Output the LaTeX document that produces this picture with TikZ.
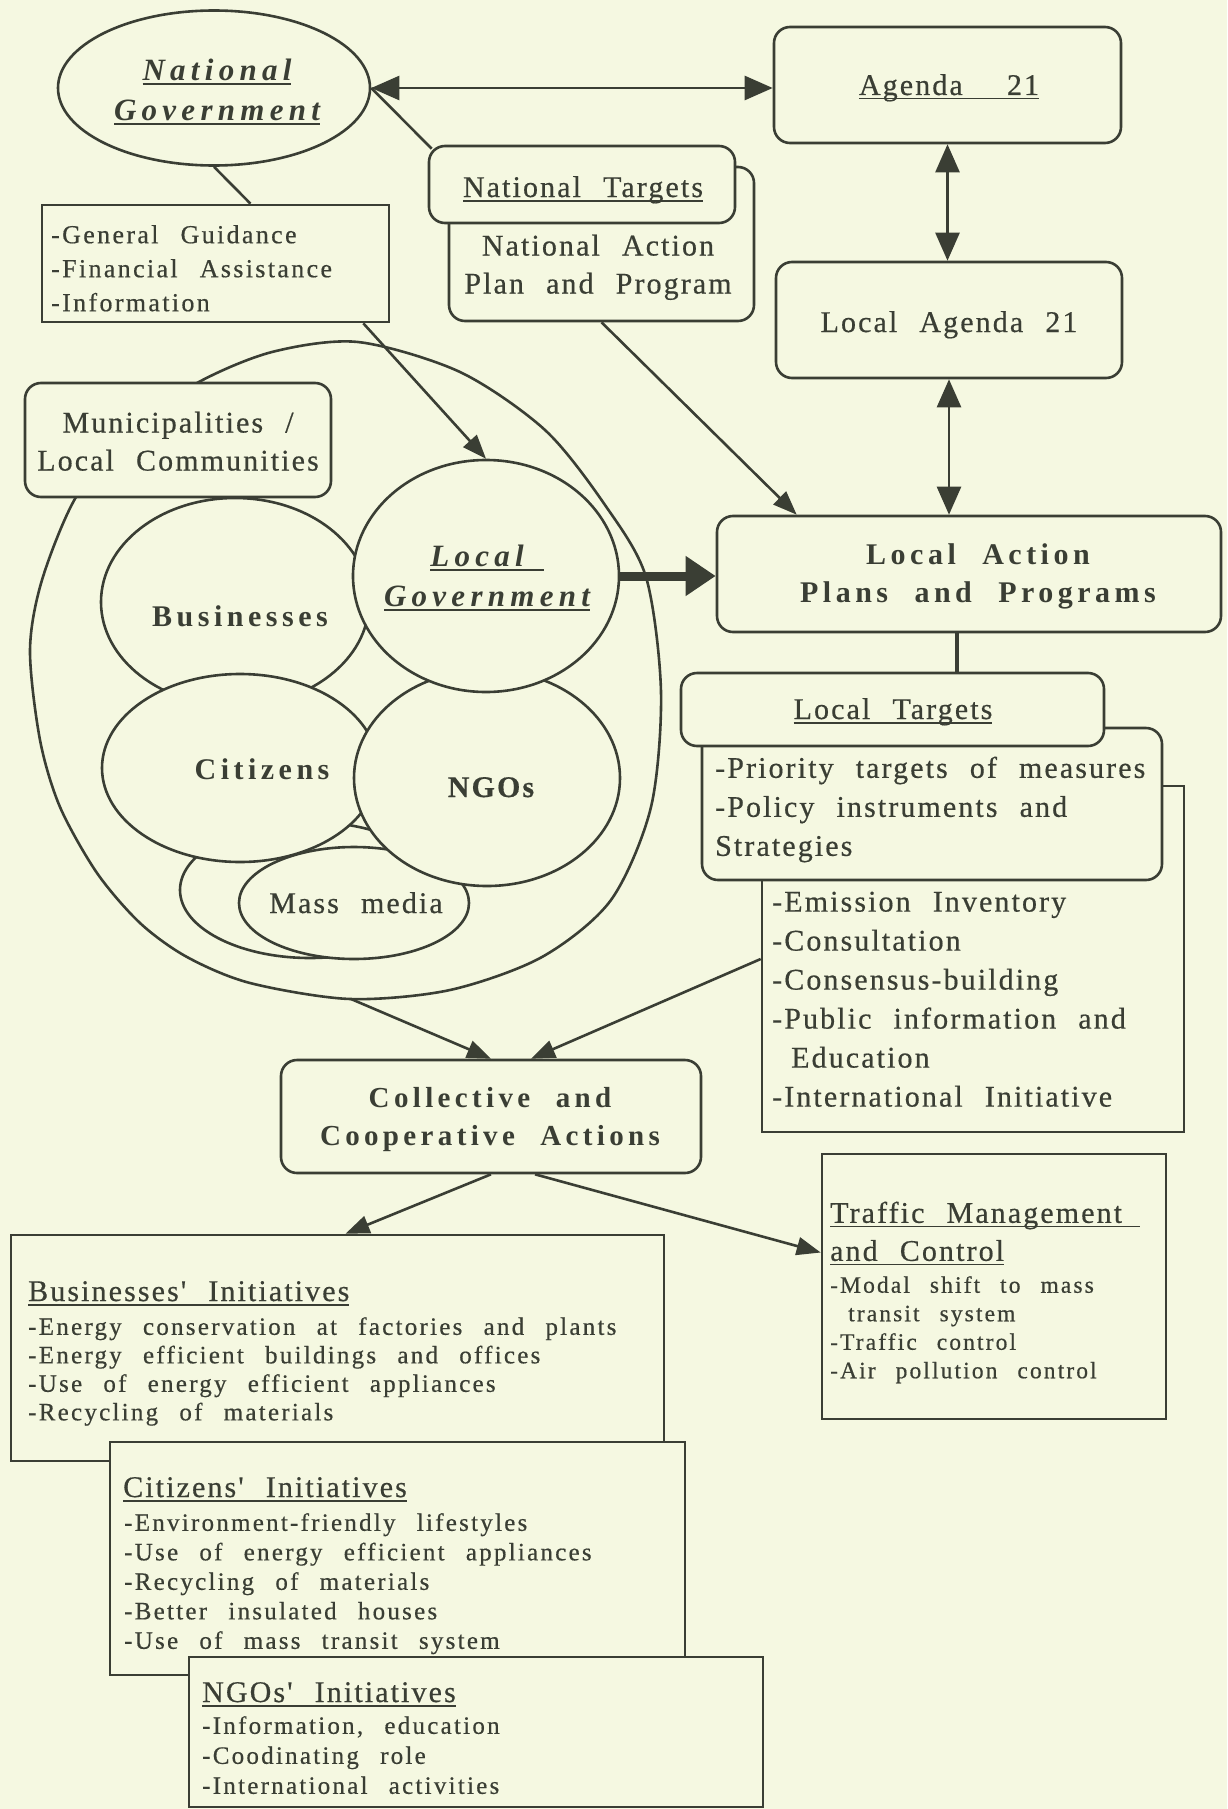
\documentclass[tikz,border=0pt]{standalone}
\usepackage{fontspec}
\setmainfont{Liberation Serif}
\newfontfamily\plainfont{Liberation Serif}[LetterSpace=7,WordSpace=2.3,FakeBold=0.5]
\newfontfamily\listfont{Liberation Serif}[LetterSpace=9,WordSpace=2.5,FakeBold=0.5]
\newfontfamily\widefont{Liberation Serif}[LetterSpace=15,WordSpace=2.2]
\newfontfamily\govfont{Liberation Serif}[LetterSpace=17,WordSpace=2]
\usetikzlibrary{arrows.meta,shapes.geometric}

\definecolor{paper}{HTML}{F5F8E1}
\definecolor{ink}{HTML}{3A3E34}

\newcommand\fsz[2]{\fontsize{#1pt}{#2pt}\selectfont}
% underline drawn as a rule under the word box
\newcommand\undl[1]{\leavevmode\setbox0=\hbox{#1}\rlap{\copy0}\rule[-4.5pt]{\wd0}{1.8pt}}

\tikzset{
  every node/.style={text=ink},
  boxframe/.style={draw=ink, line width=2.6pt, fill=paper, inner sep=0pt},
  roundframe/.style={boxframe, rounded corners=16pt},
  oval/.style={boxframe, ellipse},
  words/.style={inner sep=0pt, font=\plainfont\fsz{30}{38}},
  bigbold/.style={inner sep=0pt, font=\widefont\bfseries\fsz{30}{38}},
  gov/.style={inner sep=0pt, font=\govfont\bfseries\itshape\fsz{31}{40}, align=center, anchor=north},
  list/.style={words, anchor=north west, align=left},
  link/.style={draw=ink, line width=2.6pt},
  arr/.style={link, -{Triangle[length=24pt,width=18pt]}},
  dblarr/.style={link, {Triangle[length=28pt,width=24pt]}-{Triangle[length=28pt,width=24pt]}},
  bigarr/.style={draw=ink, line width=9pt, -{Triangle[length=30pt,width=38pt]}},
}

\begin{document}
\begin{tikzpicture}[x=1pt,y=-1pt]
\fill[paper] (0,0) rectangle (1227,1809);
\useasboundingbox (0,0) rectangle (1227,1809);

% municipality / local community
\draw[link, fill=paper] plot[smooth cycle] coordinates {(358,342) (460,372) (545,430) (605,505) (646,577) (661,692) (651,807) (611,900) (542,957) (450,990) (350,999) (250,983) (187,957) (140,923) (97,873) (60,807) (40,740) (30,650) (42,580) (76,497) (130,430) (197,383) (272,352)};
\coordinate (eggbottom) at (351,999);
\node[oval, minimum width=260pt, minimum height=136pt] (mediaback) at (310,890) {};
\node[oval, minimum width=268pt, minimum height=208pt] (business) at (235,602) {};
\node[oval, minimum width=276pt, minimum height=188pt] (citizens) at (240,768) {};
\node[oval, minimum width=230pt, minimum height=112pt] (media) at (354,903) {};
\node[oval, minimum width=266pt, minimum height=216pt] (ngos) at (487,778) {};
\node[oval, minimum width=266pt, minimum height=232pt] (localgov) at (486,576) {};
\node[bigbold, anchor=base] (businesstext) at (240,626) {Businesses};
\node[bigbold, anchor=base] (citizenstext) at (262,779) {Citizens};
\node[bigbold, anchor=base, font=\plainfont\bfseries\fsz{30}{38}] (ngostext) at (491,797) {NGOs};
\node[words, anchor=base] (mediatext) at (356,913) {Mass media};
\node[gov] (localgovtext) at (487,545) {\undl{Local\hspace{20pt}}\\\undl{Government}};
\node[roundframe, minimum width=306pt, minimum height=114pt] (municip) at (178,440) {};
\node[words, anchor=north, align=center] (municiptext) at (178,411.5) {Municipalities /\\Local Communities};

% national level
\node[oval, minimum width=312pt, minimum height=155pt] (natgov) at (214,88) {};
\node[gov] (natgovtext) at (217,59) {\undl{National}\\\undl{Government}};
\node[boxframe, minimum width=347pt, minimum height=117pt] (guide) at (215.5,263.5) {};
\node[list, font=\listfont\fsz{26}{34}] (guidetext) at (51,225) {-General Guidance\\-Financial Assistance\\-Information};
\node[roundframe, minimum width=305pt, minimum height=154pt] (natplan) at (601.5,244) {};
\node[words, anchor=north, align=center] (natplantext) at (598,234.5) {National Action\\Plan and Program};
\node[roundframe, minimum width=306pt, minimum height=77pt] (nattarget) at (582,184.5) {};
\node[words, anchor=base] (nattargettext) at (583,197) {\undl{National Targets}};
\node[roundframe, minimum width=347pt, minimum height=116pt] (agenda) at (947.5,85) {};
\node[words, anchor=base] (agendatext) at (949,95) {\undl{Agenda\ \ 21}};
\node[roundframe, minimum width=346pt, minimum height=116pt] (localagenda) at (949,320) {};
\node[words, anchor=base] (localagendatext) at (949,332) {Local Agenda 21};

% local level
\node[roundframe, minimum width=504pt, minimum height=116pt] (lap) at (969,574) {};
\node[bigbold, anchor=north, align=center] (laptext) at (978,543.5) {Local Action\\Plans and Programs};
\node[boxframe, minimum width=422pt, minimum height=346pt] (emission) at (973,959) {};
\node[list, font=\plainfont\fsz{30}{39}] (emissiontext) at (772,891.5) {-Emission Inventory\\-Consultation\\-Consensus-building\\-Public information and\\\hspace*{19pt}Education\\-International Initiative};
\node[roundframe, minimum width=460pt, minimum height=152pt] (priority) at (932,804) {};
\node[list, font=\plainfont\fsz{30}{39}] (prioritytext) at (715,756.5) {-Priority targets of measures\\-Policy instruments and\\Strategies};
\node[roundframe, minimum width=423pt, minimum height=73pt] (ltarget) at (892.5,709.5) {};
\node[words, anchor=base] (ltargettext) at (893,719) {\undl{Local Targets}};
\node[roundframe, minimum width=420pt, minimum height=113pt] (collect) at (491,1116.5) {};
\node[bigbold, anchor=north, align=center, font=\widefont\bfseries\fsz{29}{38}] (collecttext) at (490,1087) {Collective and\\Cooperative Actions};

% initiatives
\node[boxframe, minimum width=653pt, minimum height=226pt] (binit) at (337.5,1348) {};
\node[words, anchor=base west] (binittitle) at (28,1301) {\undl{Businesses' Initiatives}};
\node[list, font=\listfont\fsz{25}{28.5}] (binittext) at (28,1317) {-Energy conservation at factories and plants\\-Energy efficient buildings and offices\\-Use of energy efficient appliances\\-Recycling of materials};
\node[boxframe, minimum width=575pt, minimum height=233pt] (cinit) at (397.5,1558.5) {};
\node[words, anchor=base west] (cinittitle) at (123,1497) {\undl{Citizens' Initiatives}};
\node[list, font=\listfont\fsz{25}{29.5}] (cinittext) at (124,1513) {-Environment-friendly lifestyles\\-Use of energy efficient appliances\\-Recycling of materials\\-Better insulated houses\\-Use of mass transit system};
\node[boxframe, minimum width=574pt, minimum height=150pt] (ninit) at (476,1732) {};
\node[words, anchor=base west] (ninittitle) at (202,1702) {\undl{NGOs' Initiatives}};
\node[list, font=\listfont\fsz{25}{30}] (ninittext) at (202,1716) {-Information, education\\-Coodinating role\\-International activities};
\node[boxframe, minimum width=344pt, minimum height=265pt] (traffic) at (994,1286.5) {};
\node[list] (traffictitle) at (830,1201.5) {\undl{Traffic Management\hspace{18pt}}\\\undl{and Control}};
\node[list, font=\listfont\fsz{23.5}{28.5}] (traffictext) at (830,1276) {-Modal shift to mass\\\hspace*{18pt}transit system\\-Traffic control\\-Air pollution control};

% connectors
\draw[dblarr] (natgov.east) -- (natgov.east -| agenda.west);
\draw[link] ([shift={(4pt,-4pt)}]nattarget.north west) -- (natgov.east);
\draw[link] (natgov.south) -- ([xshift=35pt]guide.north);
\draw[arr] ([xshift=-27pt]guide.south east) -- (localgov.north);
\draw[arr] (natplan.south) -- ([xshift=81pt]lap.north west);
\draw[bigarr] (localgov.east) -- (localgov.east -| lap.west);
\draw[dblarr] (agenda.south) -- (agenda.south |- localagenda.north);
\draw[dblarr] (localagenda.south) -- (localagenda.south |- lap.north);
\draw[link, line width=4pt] ([xshift=-12pt]lap.south) -- ([xshift=-12pt]lap.south |- ltarget.north);
\draw[arr] (emission.west) -- ([xshift=40pt]collect.north);
\draw[arr] (eggbottom) -- (collect.north);
\draw[arr] (collect.south) -- ([xshift=8pt]binit.north);
\draw[arr] ([xshift=44pt]collect.south) -- ([yshift=34pt]traffic.west);
\end{tikzpicture}
\end{document}
